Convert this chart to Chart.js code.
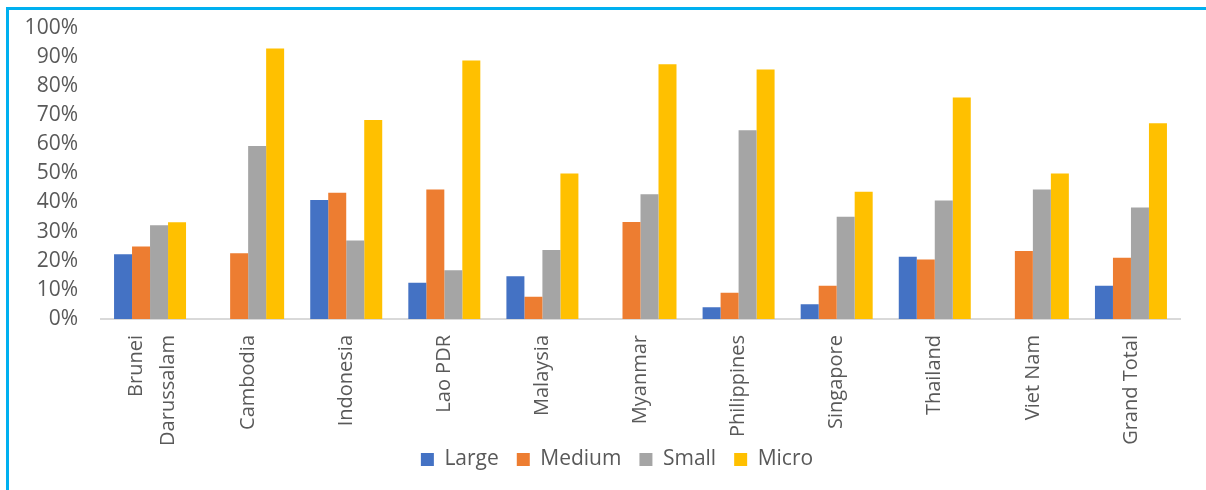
<!DOCTYPE html>
<html>
<head>
<meta charset="utf-8">
<script src="https://cdn.jsdelivr.net/npm/chart.js@4"></script>
<style>
  body { margin: 0; background: #fff; }
  #frame {
    position: absolute; left: 6px; top: 7px; width: 1200px; height: 483px;
    border-top: 3px solid #00B0F0; border-left: 3px solid #00B0F0;
  }
  #chart { position: absolute; left: 0; top: 0; }
</style>
</head>
<body>
<div id="frame"></div>
<canvas id="chart" width="1206" height="490"></canvas>
<script>
// Categories and series (percent of firms)
const countries = [['Brunei', 'Darussalam'], 'Cambodia', 'Indonesia', 'Lao PDR', 'Malaysia',
  'Myanmar', 'Philippines', 'Singapore', 'Thailand', 'Viet Nam', 'Grand Total'];
const large  = [22.2, null, 40.8, 12.4, 14.7, null, 4.0, 5.1, 21.4, null, 11.4];
const medium = [24.9, 22.6, 43.3, 44.4, 7.6, 33.3, 9.0, 11.4, 20.4, 23.3, 21.0];
const small  = [32.2, 59.4, 26.9, 16.7, 23.7, 42.8, 64.8, 35.1, 40.7, 44.4, 38.3];
const micro  = [33.2, 92.8, 68.3, 88.7, 49.9, 87.4, 85.6, 43.7, 76.0, 49.9, 67.2];

const textColor = '#595959';
const fontFamily = '"Open Sans", "Noto Sans", sans-serif';
const xLineHeight = 32;

// legend sits partly over the x label band, like in Excel
const legendPlacer = {
  id: 'legendPlacer',
  afterInit(chart) {
    const lg = chart.legend;
    const fit = lg.fit.bind(lg);
    lg.fit = function () { fit(); this.height = 24; };
  },
  beforeDraw(chart) {
    const lg = chart.legend;
    lg.top = 431;
    lg.bottom = lg.top + 70;
    lg.left += 27;
    lg.right += 27;
  }
};

// centre the lines of a two-line rotated label on its tick
function centreMultiLine(scale) {
  if (scale._centred) return;
  const orig = scale._computeLabelItems.bind(scale);
  scale._computeLabelItems = function (area) {
    const items = orig(area);
    items.forEach(it => {
      if (Array.isArray(it.label) && it.label.length > 1) {
        it.options.translation[0] -= (it.label.length - 1) * xLineHeight / 2 - 2;
      }
    });
    return items;
  };
  scale._centred = true;
}

const ctx = document.getElementById('chart');

new Chart(ctx, {
  type: 'bar',
  data: {
    labels: countries,
    datasets: [
      { label: 'Large', data: large, backgroundColor: '#4472C4' },
      { label: 'Medium', data: medium, backgroundColor: '#ED7D31' },
      { label: 'Small', data: small, backgroundColor: '#A5A5A5' },
      { label: 'Micro', data: micro, backgroundColor: '#FFC000' }
    ]
  },
  options: {
    responsive: false,
    animation: false,
    categoryPercentage: 0.734,
    barPercentage: 1.0,
    layout: {
      padding: { top: 24, left: 0, right: 26, bottom: 7 }
    },
    scales: {
      y: {
        min: 0,
        max: 100,
        ticks: {
          stepSize: 10,
          color: textColor,
          font: { family: fontFamily, size: 21 },
          padding: 15,
          callback: v => v + '%'
        },
        grid: { display: false },
        border: { display: false },
        afterFit: scale => { scale.width = 101; }
      },
      x: {
        ticks: {
          autoSkip: false,
          minRotation: 90,
          maxRotation: 90,
          color: textColor,
          font: { family: fontFamily, size: 20, lineHeight: xLineHeight / 20 },
          padding: 8
        },
        grid: { display: false },
        border: { color: '#D9D9D9', width: 2 },
        afterFit: scale => { scale.height = 140; centreMultiLine(scale); }
      }
    },
    plugins: {
      legend: {
        position: 'bottom',
        labels: {
          boxWidth: 13,
          boxHeight: 13,
          padding: 18,
          color: textColor,
          font: { family: fontFamily, size: 21 }
        }
      },
      tooltip: { enabled: false }
    }
  },
  plugins: [legendPlacer]
});
</script>
</body>
</html>
